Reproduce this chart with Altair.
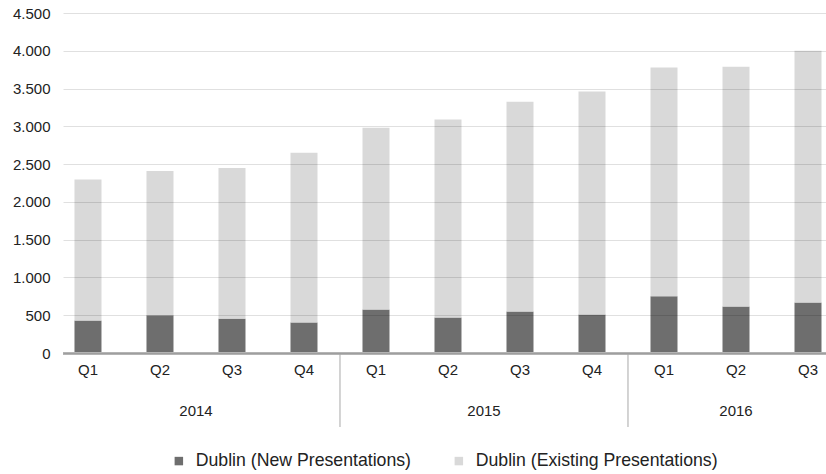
import altair as alt
import pandas as pd

quarters = ["Q1", "Q2", "Q3", "Q4", "Q1", "Q2", "Q3", "Q4", "Q1", "Q2", "Q3"]
years = ["2014", "2014", "2014", "2014", "2015", "2015", "2015", "2015", "2016", "2016", "2016"]
new_pres = [430, 500, 455, 405, 575, 470, 550, 510, 750, 615, 670]
existing_pres = [1865, 1910, 1995, 2245, 2405, 2620, 2775, 2950, 3030, 3175, 3330]
series_names = ["Dublin (New Presentations)", "Dublin (Existing Presentations)"]
series_colors = ["#6e6e6e", "#d9d9d9"]
y_ticks = [0, 500, 1000, 1500, 2000, 2500, 3000, 3500, 4000, 4500]
separators = [3.5, 7.5]

rows = []
for i, (q, yr) in enumerate(zip(quarters, years)):
    rows.append({"idx": i, "quarter": q, "year": yr, "series": series_names[0], "order": 0, "value": new_pres[i]})
    rows.append({"idx": i, "quarter": q, "year": yr, "series": series_names[1], "order": 1, "value": existing_pres[i]})
df = pd.DataFrame(rows)
qdf = pd.DataFrame({"idx": list(range(len(quarters))), "quarter": quarters, "year": years})
sepdf = pd.DataFrame({"sep": separators})

FONT = "Liberation Sans"
xscale = alt.Scale(domain=[-0.347, 10.25], nice=False, zero=False, padding=0)
yscale = alt.Scale(domain=[0, 4500], nice=False)

bars = alt.Chart(df).mark_bar(width=27).encode(
    x=alt.X("idx:Q", scale=xscale, axis=None),
    y=alt.Y("value:Q", stack="zero", scale=yscale,
            axis=alt.Axis(values=y_ticks, title=None, domain=False, ticks=False,
                          labelPadding=13, labelFont=FONT, labelFontSize=15,
                          labelColor="#222222", gridColor="#000000", gridOpacity=0.12,
                          gridWidth=1, zindex=1,
                          labelExpr="replace(format(datum.value, ','), ',', '.')")),
    color=alt.Color("series:N", scale=alt.Scale(domain=series_names, range=series_colors),
                    legend=alt.Legend(title=None, orient="none", direction="horizontal",
                                      legendX=107, legendY=439, symbolType="square",
                                      symbolSize=72, symbolStrokeWidth=0, labelFont=FONT,
                                      labelFontSize=17.7, labelColor="#222222", labelLimit=600,
                                      columnPadding=39, labelOffset=8)),
    order=alt.Order("order:Q"),
)

baseline = alt.Chart(df).mark_rule(color="#b4b4b4", strokeWidth=2).encode(
    y=alt.value(340.5),
    x=alt.value(0), x2=alt.value(763),
)

seps = alt.Chart(sepdf).mark_rule(color="#a8a8a8", strokeWidth=1).encode(
    x=alt.X("sep:Q", scale=xscale, axis=None),
    y=alt.value(341), y2=alt.value(414),
)

qlabels = alt.Chart(qdf).mark_text(font=FONT, fontSize=15, color="#222222", baseline="middle").encode(
    x=alt.X("idx:Q", scale=xscale, axis=None),
    y=alt.value(357),
    text="quarter:N",
)

ylabels = alt.Chart(qdf).transform_aggregate(
    center="mean(idx)", groupby=["year"]
).mark_text(font=FONT, fontSize=15, color="#222222", baseline="middle").encode(
    x=alt.X("center:Q", scale=xscale, axis=None),
    y=alt.value(398),
    text="year:N",
)

chart = alt.layer(bars, baseline, seps, qlabels, ylabels).properties(
    width=763, height=340,
    autosize=alt.AutoSizeParams(type="none"),
    padding={"left": 63, "top": 13, "right": 0, "bottom": 121},
).configure_view(stroke=None)

chart.save("out.html", embed_options={"renderer": "svg", "actions": False})
